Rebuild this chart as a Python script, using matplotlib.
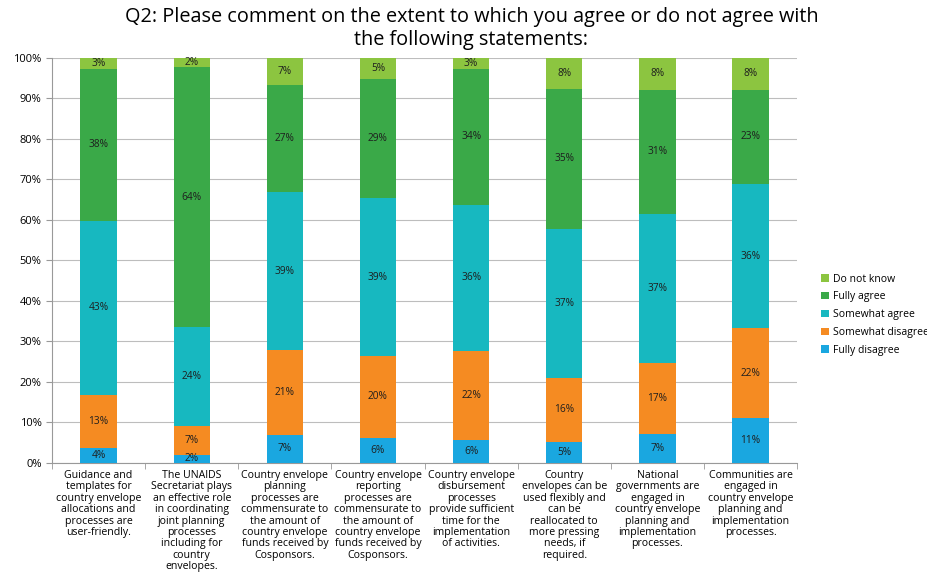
import numpy as np
import matplotlib.pyplot as plt

plt.rcParams['font.family'] = ['Open Sans', 'DejaVu Sans']

categories = [
    "Guidance and\ntemplates for\ncountry envelope\nallocations and\nprocesses are\nuser-friendly.",
    "The UNAIDS\nSecretariat plays\nan effective role\nin coordinating\njoint planning\nprocesses\nincluding for\ncountry\nenvelopes.",
    "Country envelope\nplanning\nprocesses are\ncommensurate to\nthe amount of\ncountry envelope\nfunds received by\nCosponsors.",
    "Country envelope\nreporting\nprocesses are\ncommensurate to\nthe amount of\ncountry envelope\nfunds received by\nCosponsors.",
    "Country envelope\ndisbursement\nprocesses\nprovide sufficient\ntime for the\nimplementation\nof activities.",
    "Country\nenvelopes can be\nused flexibly and\ncan be\nreallocated to\nmore pressing\nneeds, if\nrequired.",
    "National\ngovernments are\nengaged in\ncountry envelope\nplanning and\nimplementation\nprocesses.",
    "Communities are\nengaged in\ncountry envelope\nplanning and\nimplementation\nprocesses.",
]

# percentages per response (bottom to top)
fully_disagree = [3.7, 2.0, 7.0, 6.2, 5.7, 5.2, 7.2, 11.1]
somewhat_disagree = [13.1, 7.1, 20.8, 20.2, 22.0, 15.8, 17.4, 22.2]
somewhat_agree = [43.0, 24.4, 39.0, 39.0, 36.1, 36.8, 37.0, 35.6]
fully_agree = [37.6, 64.3, 26.6, 29.4, 33.6, 34.6, 30.6, 23.3]
do_not_know = [2.6, 2.2, 6.6, 5.2, 2.6, 7.6, 7.8, 7.8]

series = [
    ("Fully disagree", fully_disagree, "#1aa7e0"),
    ("Somewhat disagree", somewhat_disagree, "#f58b22"),
    ("Somewhat agree", somewhat_agree, "#17b8c0"),
    ("Fully agree", fully_agree, "#3aa948"),
    ("Do not know", do_not_know, "#8cc540"),
]

fig = plt.figure(figsize=(9.28, 5.72), dpi=100)
ax = fig.add_axes([0.056, 0.1906, 0.803, 0.708])

x = np.arange(len(categories))
bottom = np.zeros(len(categories))
handles = []
for name, vals, col in series:
    vals = np.array(vals)
    b = ax.bar(x, vals, 0.39, bottom=bottom, color=col, label=name, zorder=3)
    handles.append(b)
    for xi, v, bt in zip(x, vals, bottom):
        ax.text(xi, bt + v / 2, f"{int(round(v))}%", ha='center', va='center',
                fontsize=7.3, color='#1e1e1e', zorder=4)
    bottom += vals

ax.set_ylim(0, 100)
ax.set_xlim(-0.5, len(categories) - 0.5)
ax.set_yticks(np.arange(0, 101, 10))
ax.set_yticklabels([f"{v}%" for v in range(0, 101, 10)], fontsize=8)
ax.yaxis.grid(True, color='#bdbdbd', linewidth=0.8, zorder=0)
ax.set_xticks(x)
ax.set_xticklabels(categories, fontsize=7.6, linespacing=1.05)
ax.set_xticks(np.arange(-0.5, len(categories), 1), minor=True)
ax.tick_params(axis='x', which='major', length=0, pad=5)
ax.tick_params(axis='x', which='minor', length=4, color='#999999', direction='out')
ax.tick_params(axis='y', length=4, color='#999999')
for s in ['top', 'right']:
    ax.spines[s].set_visible(False)
ax.spines['left'].set_color('#999999')
ax.spines['bottom'].set_color('#999999')

fig.text(0.508, 0.988, "Q2: Please comment on the extent to which you agree or do not agree with\nthe following statements:",
         ha='center', va='top', fontsize=14.3, linespacing=1.2)

ax.legend(handles[::-1], [s[0] for s in series][::-1], loc='center left',
          bbox_to_anchor=(0.875, 0.45), bbox_transform=fig.transFigure,
          frameon=False, fontsize=7.5, handlelength=0.7, handleheight=0.7,
          handletextpad=0.4, labelspacing=0.65)

fig.savefig("out.png", dpi=100)
